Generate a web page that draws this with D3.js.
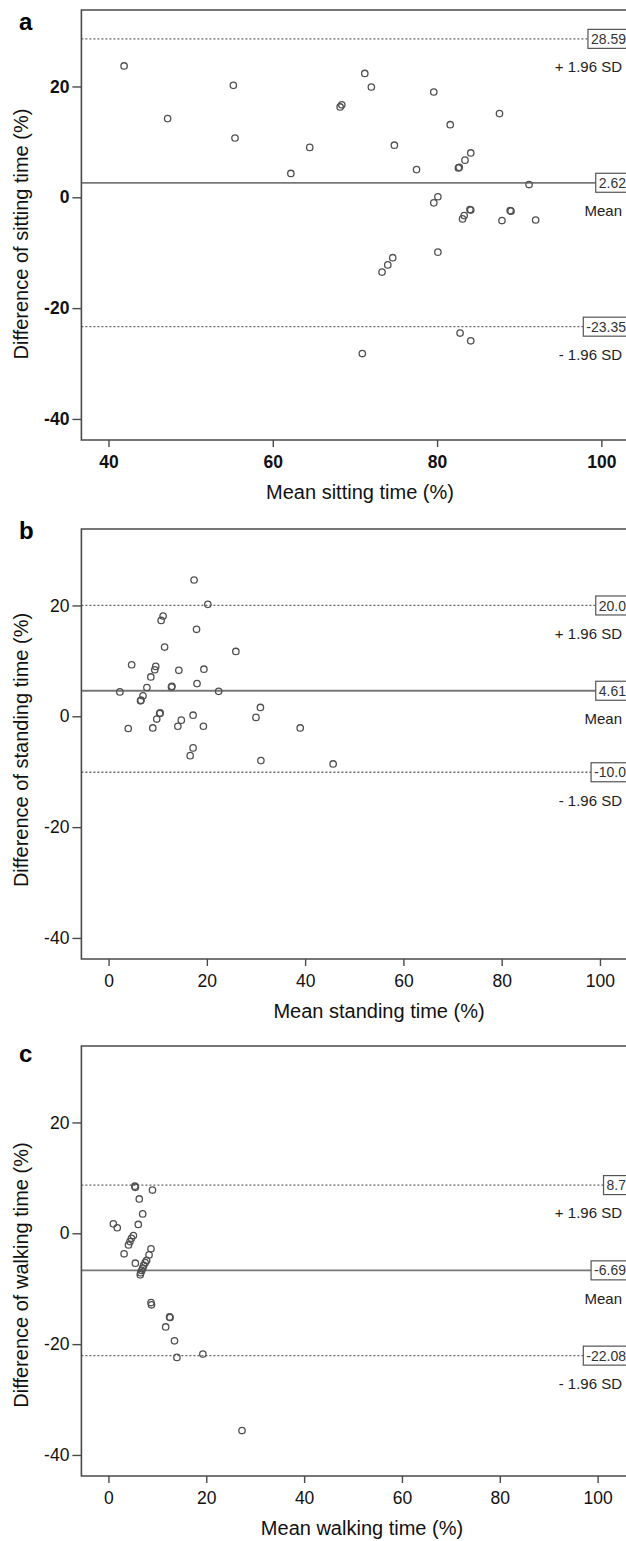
<!DOCTYPE html>
<html>
<head>
<meta charset="utf-8">
<script src="https://d3js.org/d3.v7.min.js"></script>
<style>
  html, body { margin: 0; padding: 0; background: #fff; }
  svg { display: block; font-family: "Liberation Sans", Arial, Helvetica, sans-serif; }
</style>
</head>
<body>
<div id="chart"></div>
<script>
// Bland-Altman data
const sitMean = [41.9, 47.2, 55.2, 55.4, 62.2, 64.5, 68.2, 68.4, 71.2, 72.0, 79.6, 74.8, 81.6, 87.6, 77.5, 82.6, 82.7, 83.4, 84.1, 91.2, 80.1, 79.6, 84.0, 84.1, 83.3, 83.1, 88.9, 89.0, 87.9, 92.0, 73.3, 74.0, 74.6, 80.1, 82.8, 84.1, 70.9];
const sitDiff = [23.7, 14.2, 20.2, 10.7, 4.3, 9.0, 16.3, 16.7, 22.35, 19.9, 19.0, 9.4, 13.1, 15.1, 5.0, 5.3, 5.4, 6.7, 8.0, 2.3, 0.1, -1.0, -2.2, -2.3, -3.3, -3.9, -2.4, -2.5, -4.2, -4.1, -13.5, -12.2, -10.9, -9.9, -24.5, -25.9, -28.2];

const standMean = [17.4, 20.2, 11.1, 10.7, 17.9, 11.4, 25.9, 4.7, 9.6, 9.4, 8.6, 14.3, 19.4, 18.0, 7.8, 12.8, 12.9, 2.3, 22.4, 7.0, 6.5, 6.6, 10.4, 10.5, 9.8, 4.0, 9.0, 14.8, 14.1, 17.2, 19.3, 30.9, 30.0, 39.0, 17.2, 16.6, 31.0, 45.7];
const standDiff = [24.6, 20.2, 18.1, 17.3, 15.7, 12.5, 11.7, 9.3, 9.0, 8.4, 7.1, 8.3, 8.5, 5.9, 5.2, 5.3, 5.4, 4.4, 4.5, 3.7, 2.8, 2.9, 0.5, 0.6, -0.5, -2.2, -2.1, -0.7, -1.8, 0.2, -1.8, 1.6, -0.2, -2.1, -5.7, -7.1, -8.0, -8.6];

const walkMean = [5.4, 5.5, 9.0, 6.3, 7.0, 6.1, 1.0, 1.8, 5.1, 4.7, 4.4, 4.1, 3.2, 8.7, 8.3, 7.8, 5.5, 7.5, 7.2, 7.0, 6.8, 6.6, 6.5, 8.7, 8.8, 12.5, 12.6, 11.7, 13.5, 14.0, 19.3, 27.3];
const walkDiff = [8.5, 8.3, 7.8, 6.2, 3.5, 1.6, 1.7, 1.0, -0.4, -0.9, -1.5, -2.1, -3.7, -2.8, -3.9, -4.9, -5.4, -5.3, -5.8, -6.3, -6.7, -7.1, -7.5, -12.5, -12.9, -15.1, -15.2, -16.9, -19.4, -22.4, -21.8, -35.6];

// reference lines: upper limit, mean, lower limit
const sitLines = [28.59, 2.62, -23.35];
const sitLineText = ["28.59", "2.62", "-23.35"];
const standLines = [20.0, 4.61, -10.1];
const standLineText = ["20.0", "4.61", "-10.0"];
const walkLines = [8.7, -6.69, -22.08];
const walkLineText = ["8.7", "-6.69", "-22.08"];
const lineNames = ["+ 1.96 SD", "Mean", "- 1.96 SD"];

const xTicksSit = [40, 60, 80, 100];
const xTicksOther = [0, 20, 40, 60, 80, 100];
const yTicks = [-40, -20, 0, 20];
const yDomain = [-43.8, 33.8];

const panels = [
  { letter: "a", top: 10, letterY: 30, xDomain: [36.7, 103.0], xTicks: xTicksSit, bold: true,
    xs: sitMean, ys: sitDiff, lines: sitLines, lineText: sitLineText,
    xTitle: "Mean sitting time (%)", yTitle: "Difference of sitting time (%)", xTitleX: 360, yTitleShift: 9 },
  { letter: "b", top: 529, letterY: 539, xDomain: [-5.53, 105.3], xTicks: xTicksOther, bold: false,
    xs: standMean, ys: standDiff, lines: standLines, lineText: standLineText,
    xTitle: "Mean standing time (%)", yTitle: "Difference of standing time (%)", xTitleX: 379, yTitleShift: 6 },
  { letter: "c", top: 1046, letterY: 1062, xDomain: [-5.53, 105.8], xTicks: xTicksOther, bold: false,
    xs: walkMean, ys: walkDiff, lines: walkLines, lineText: walkLineText,
    xTitle: "Mean walking time (%)", yTitle: "Difference of walking time (%)", xTitleX: 362, yTitleShift: 14 }
];

const W = 626, H = 1541;
const left = 81.4, right = 626, plotH = 430;
const fmt = d => String(d);

const svg = d3.select("#chart").append("svg")
  .attr("width", W).attr("height", H)
  .attr("viewBox", `0 0 ${W} ${H}`);

svg.append("rect").attr("width", W).attr("height", H).attr("fill", "#fff");

panels.forEach(p => {
  const top = p.top, bottom = top + plotH;
  const x = d3.scaleLinear().domain(p.xDomain).range([left, right]);
  const y = d3.scaleLinear().domain(yDomain).range([bottom, top]);
  const g = svg.append("g");
  const lineLayer = g.append("g");
  const boxLayer = g.append("g");
  const textLayer = g.append("g");

  // frame (right side runs off the picture)
  g.append("path")
    .attr("d", `M${right + 20},${top}H${left}V${bottom}H${right + 20}`)
    .attr("fill", "none").attr("stroke", "#4a4a4a").attr("stroke-width", 1.6);

  // axes
  const ya = g.append("g").attr("transform", `translate(${left},0)`)
    .call(d3.axisLeft(y).tickValues(yTicks).tickSize(9).tickPadding(3).tickFormat(fmt));
  const xa = g.append("g").attr("transform", `translate(0,${bottom})`)
    .call(d3.axisBottom(x).tickValues(p.xTicks).tickSize(7).tickPadding(9).tickFormat(fmt));
  [ya, xa].forEach(a => {
    a.select(".domain").remove();
    a.selectAll(".tick line").attr("stroke", "#4a4a4a").attr("stroke-width", 1.4);
    a.selectAll(".tick text")
      .attr("fill", "#111")
      .style("font-size", "17.5px")
      .style("font-weight", p.bold ? "bold" : "normal")
      .style("font-family", "'Liberation Sans', Arial, sans-serif");
  });

  // reference lines with value boxes and names
  const boxR = 629, pad = 3;
  p.lines.forEach((v, i) => {
    const ly = y(v);
    const t = textLayer.append("text")
      .attr("y", ly).attr("dy", "0.36em")
      .attr("fill", "#333")
      .style("font-size", "14px")
      .text(p.lineText[i]);
    const tw = t.node().getComputedTextLength();
    const bx = boxR - tw - 2 * pad;
    t.attr("x", bx + pad);
    boxLayer.append("rect")
      .attr("x", bx).attr("y", ly - 9.5)
      .attr("width", boxR + 10 - bx).attr("height", 19)
      .attr("fill", "#fff").attr("stroke", "#555").attr("stroke-width", 1.2);
    lineLayer.append("line")
      .attr("x1", left).attr("x2", bx)
      .attr("y1", ly).attr("y2", ly)
      .attr("stroke", i === 1 ? "#777" : "#666")
      .attr("stroke-width", i === 1 ? 1.8 : 1.3)
      .attr("stroke-dasharray", i === 1 ? null : "2,2");
    textLayer.append("text")
      .attr("x", 622).attr("y", ly + 28).attr("dy", "0.36em")
      .attr("text-anchor", "end")
      .attr("fill", "#222")
      .style("font-size", "15px")
      .text(lineNames[i]);
  });

  // points
  g.append("g").selectAll("circle")
    .data(p.xs.map((d, i) => [d, p.ys[i]]))
    .join("circle")
    .attr("cx", d => x(d[0])).attr("cy", d => y(d[1]))
    .attr("r", 3.2)
    .attr("fill", "none").attr("stroke", "#505050").attr("stroke-width", 1.3);

  // titles
  g.append("text")
    .attr("x", p.xTitleX).attr("y", bottom + 59)
    .attr("text-anchor", "middle").attr("fill", "#111")
    .style("font-size", "20px")
    .text(p.xTitle);
  const cy = (top + bottom) / 2 + p.yTitleShift;
  g.append("text")
    .attr("transform", `translate(28,${cy}) rotate(-90)`)
    .attr("text-anchor", "middle").attr("fill", "#111")
    .style("font-size", "20px")
    .text(p.yTitle);

  g.append("text")
    .attr("x", 19).attr("y", p.letterY)
    .attr("fill", "#000")
    .style("font-size", "24px").style("font-weight", "bold")
    .text(p.letter);
});
</script>
</body>
</html>
